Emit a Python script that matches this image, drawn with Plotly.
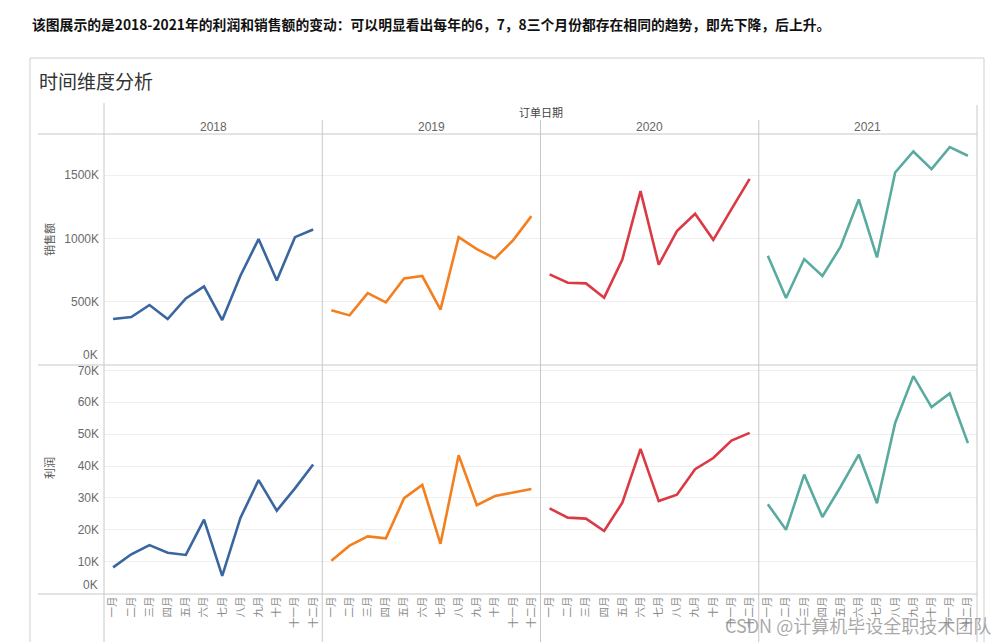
import plotly.graph_objects as go

W, H = 999, 642

years = ["2018", "2019", "2020", "2021"]
months = ["一月", "二月", "三月", "四月", "五月", "六月", "七月", "八月", "九月", "十月", "十一月", "十二月"]

sales_2018 = [363, 379, 474, 363, 526, 621, 355, 705, 995, 668, 1010, 1071]
sales_2019 = [432, 392, 568, 495, 684, 703, 437, 1010, 916, 842, 987, 1176]
sales_2020 = [716, 650, 645, 532, 834, 1374, 792, 1058, 1195, 989, 1232, 1471]
sales_2021 = [863, 529, 837, 703, 934, 1308, 850, 1521, 1687, 1547, 1721, 1653]

profit_2018 = [8.2, 12.3, 15.2, 12.8, 12.1, 23.2, 5.5, 23.7, 35.6, 26.0, 33.0, 40.5]
profit_2019 = [10.3, 15.0, 17.9, 17.3, 29.9, 34.1, 15.6, 43.4, 27.7, 30.6, 31.7, 32.8]
profit_2020 = [26.7, 23.8, 23.5, 19.6, 28.5, 45.4, 29.0, 31.0, 39.0, 42.5, 48.0, 50.4]
profit_2021 = [28.0, 20.0, 37.3, 24.0, 33.5, 43.6, 28.3, 53.5, 68.2, 58.5, 62.8, 47.2]

sales = [sales_2018, sales_2019, sales_2020, sales_2021]
profit = [profit_2018, profit_2019, profit_2020, profit_2021]

colors = ["#3a66a0", "#f47f1e", "#db3a45", "#5aab9f"]

sales_ticks = [500, 1000, 1500]
profit_ticks = [10, 20, 30, 40, 50, 60, 70]

fig = go.Figure()

def px_x(p):
    return p / W

def px_y(p):
    return 1 - p / H

left, right = 104, 977
colw = (right - left) / 4
top_r = (134, 365)
bot_r = (365, 593.5)

grid_col = "#efefef"
tick_font = dict(family="Liberation Sans, Arial", size=12, color="#6a6a6a")

for i in range(4):
    x0 = left + i * colw
    x1 = x0 + colw
    for r, (vals, (ya, yb)) in enumerate([(sales, top_r), (profit, bot_r)]):
        idx = i + 1 + r * 4
        xa = "x" if idx == 1 else f"x{idx}"
        yaname = "y" if idx == 1 else f"y{idx}"
        data = [v * 1000 for v in vals[i]]
        fig.add_trace(go.Scatter(
            x=months, y=data, mode="lines",
            line=dict(color=colors[i], width=2.6),
            xaxis=xa, yaxis=yaname, showlegend=False,
            hovertemplate="%{x}: %{y}<extra></extra>"))
        xkey = "xaxis" if idx == 1 else f"xaxis{idx}"
        ykey = "yaxis" if idx == 1 else f"yaxis{idx}"
        show_xt = (r == 1)
        fig.layout[xkey] = dict(
            domain=[px_x(x0), px_x(x1)], anchor=yaname, type="category",
            categoryorder="array", categoryarray=months,
            range=[-0.5, 11.5], showgrid=False, zeroline=False,
            showline=False, ticks="",
            showticklabels=show_xt, tickangle=-90,
            tickfont=dict(family="Noto Sans CJK SC", size=10.5, color="#8a8a8a"),
            fixedrange=True)
        if r == 0:
            tv = [t * 1000 for t in sales_ticks]
            tt = [f"{t}K" for t in sales_ticks]
            rng = [0, 1825000]
        else:
            tv = [t * 1000 for t in profit_ticks]
            tt = [f"{t}K" for t in profit_ticks]
            rng = [0, 71700]
        fig.layout[ykey] = dict(
            domain=[px_y(yb), px_y(ya)], anchor=xa, range=rng,
            tickvals=tv, ticktext=tt, showgrid=True, gridcolor=grid_col,
            gridwidth=1, zeroline=False, showline=False, ticks="",
            showticklabels=(i == 0), tickfont=tick_font, ticklabelstandoff=4,
            fixedrange=True)

shapes = []
line_c = "#c8c8c8"
# panel border
shapes.append(dict(type="rect", xref="paper", yref="paper",
                   x0=px_x(30), x1=px_x(984), y0=px_y(660), y1=px_y(58),
                   line=dict(color="#cfcfcf", width=1)))
# horizontal separators
for yy in [134, 365, 594]:
    shapes.append(dict(type="line", xref="paper", yref="paper",
                       x0=px_x(38), x1=px_x(977), y0=px_y(yy), y1=px_y(yy),
                       line=dict(color=line_c, width=1)))
# vertical separators
shapes.append(dict(type="line", xref="paper", yref="paper",
                   x0=px_x(104), x1=px_x(104), y0=px_y(103), y1=px_y(660),
                   line=dict(color=line_c, width=1)))
for i in range(1, 4):
    xx = left + i * colw
    shapes.append(dict(type="line", xref="paper", yref="paper",
                       x0=px_x(xx), x1=px_x(xx), y0=px_y(120), y1=px_y(660),
                       line=dict(color=line_c, width=1)))
shapes.append(dict(type="line", xref="paper", yref="paper",
                   x0=px_x(977), x1=px_x(977), y0=px_y(105), y1=px_y(660),
                   line=dict(color=line_c, width=1)))

annotations = []
annotations.append(dict(
    text="<b>该图展示的是2018-2021年的利润和销售额的变动：可以明显看出每年的6，7，8三个月份都存在相同的趋势，即先下降，后上升。</b>",
    xref="paper", yref="paper", x=px_x(30), y=px_y(24), xanchor="left", yanchor="middle",
    showarrow=False, font=dict(family="Noto Sans CJK SC", size=13.8, color="#111111")))
annotations.append(dict(
    text="时间维度分析", xref="paper", yref="paper", x=px_x(37), y=px_y(81),
    xanchor="left", yanchor="middle", showarrow=False,
    font=dict(family="Noto Sans CJK SC", size=19, color="#333333")))
annotations.append(dict(
    text="订单日期", xref="paper", yref="paper", x=px_x(540.5), y=px_y(112),
    xanchor="center", yanchor="middle", showarrow=False,
    font=dict(family="Noto Sans CJK SC", size=11, color="#444444")))
for i, yr in enumerate(years):
    cx = left + (i + 0.5) * colw
    annotations.append(dict(
        text=yr, xref="paper", yref="paper", x=px_x(cx), y=px_y(127),
        xanchor="center", yanchor="middle", showarrow=False,
        font=dict(family="Liberation Sans, Arial", size=12, color="#666666")))
annotations.append(dict(
    text="销售额", xref="paper", yref="paper", x=px_x(49), y=px_y(240),
    xanchor="center", yanchor="middle", textangle=-90, showarrow=False,
    font=dict(family="Noto Sans CJK SC", size=11, color="#555555")))
annotations.append(dict(
    text="利润", xref="paper", yref="paper", x=px_x(49), y=px_y(468),
    xanchor="center", yanchor="middle", textangle=-90, showarrow=False,
    font=dict(family="Noto Sans CJK SC", size=11, color="#555555")))
# zero labels (Tableau nudges them inside the pane)
annotations.append(dict(
    text="0K", xref="x", yref="y", x=-0.5, y=0, xanchor="right", yanchor="bottom",
    xshift=-4, yshift=1, showarrow=False, font=tick_font))
annotations.append(dict(
    text="0K", xref="x5", yref="y5", x=-0.5, y=0, xanchor="right", yanchor="bottom",
    xshift=-4, yshift=0, showarrow=False, font=tick_font))
annotations.append(dict(
    text="CSDN @计算机毕设全职技术团队", xref="paper", yref="paper", x=px_x(993), y=px_y(625),
    xanchor="right", yanchor="middle", showarrow=False,
    font=dict(family="Noto Sans CJK SC", size=18, color="rgba(140,140,140,0.75)")))

fig.update_layout(
    width=W, height=H, margin=dict(l=0, r=0, t=0, b=0),
    paper_bgcolor="white", plot_bgcolor="white",
    shapes=shapes, annotations=annotations, showlegend=False)

fig.write_html("out.html", config={"displayModeBar": False},
               post_script="document.body.style.margin='0px';document.body.style.overflow='hidden';")
